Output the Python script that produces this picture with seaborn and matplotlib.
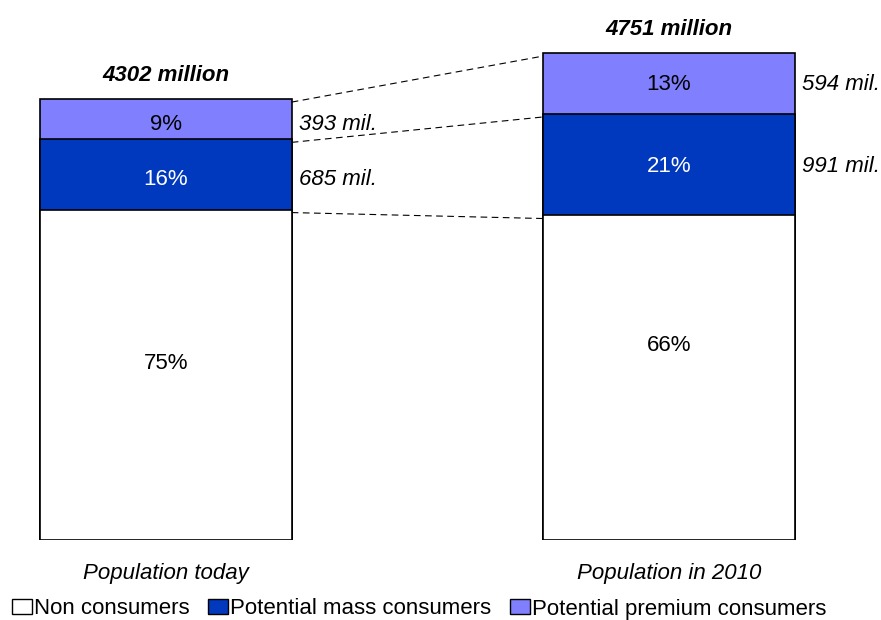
import matplotlib
matplotlib.use("Agg")
import matplotlib.pyplot as plt
from matplotlib.patches import Patch
from matplotlib.transforms import offset_copy
import seaborn as sns
import pandas as pd

# Population segments (millions) for each period
periods = ["Population today", "Population in 2010"]
totals = [4302, 4751]
mass_mil = [685, 991]
premium_mil = [393, 594]
non_mil = [t - m - p for t, m, p in zip(totals, mass_mil, premium_mil)]

# Shares shown inside the bars (%)
non_pct = [75, 66]
mass_pct = [16, 21]
premium_pct = [9, 13]

segment_names = ["Non consumers", "Potential mass consumers", "Potential premium consumers"]
colors = {"Non consumers": "#FFFFFF",
          "Potential mass consumers": "#0039BE",
          "Potential premium consumers": "#8080FF"}

sns.set_style("white")
plt.rcParams["font.family"] = ["Liberation Sans", "DejaVu Sans"]
plt.rcParams["text.color"] = "black"
FS = 16

fig = plt.figure(figsize=(8.81, 6.2), dpi=100)
ax = fig.add_axes([0, 80 / 620, 1, 540 / 620])

df = pd.DataFrame({
    "period": periods,
    "top": totals,
    "mass_top": [n + m for n, m in zip(non_mil, mass_mil)],
    "non_top": non_mil,
})

# Stack by drawing cumulative heights from tallest to shortest
BAR_W = 0.5
for col, seg in [("top", "Potential premium consumers"),
                 ("mass_top", "Potential mass consumers"),
                 ("non_top", "Non consumers")]:
    sns.barplot(data=df, x="period", y=col, color=colors[seg], saturation=1,
                width=BAR_W, edgecolor="black", linewidth=1.2, errorbar=None, ax=ax)

ax.set_xlim(-0.330, 1.4215)
ax.set_ylim(0, 5268)
ax.axis("off")

half = BAR_W / 2
# Dashed connectors between matching boundaries of the two bars
line_tr = offset_copy(ax.transData, fig=fig, y=-2.2, units="points")
for level in [totals, df["mass_top"].tolist(), non_mil]:
    ax.plot([0 + half, 1 - half], [level[0], level[1]], color="black",
            lw=0.8, ls=(0, (6, 4)), zorder=1, transform=line_tr)

# Small vertical nudges (points) for labels of each bar
seg_dy = [-3.5, -1]
non_dy = [8, 23]

for i in range(2):
    n, m, p = non_mil[i], mass_mil[i], premium_mil[i]
    dy = seg_dy[i]
    # Share labels inside segments
    ax.annotate(f"{non_pct[i]}%", xy=(i, n / 2), xytext=(0, non_dy[i]),
                textcoords="offset points", ha="center", va="center", fontsize=FS)
    ax.annotate(f"{mass_pct[i]}%", xy=(i, n + m / 2), xytext=(0, dy),
                textcoords="offset points", ha="center", va="center",
                fontsize=FS, color="white")
    ax.annotate(f"{premium_pct[i]}%", xy=(i, n + m + p / 2), xytext=(0, dy),
                textcoords="offset points", ha="center", va="center", fontsize=FS)
    # Absolute values to the right of the bar
    ax.annotate(f"{m} mil.", xy=(i + half, n + m / 2), xytext=(5, dy),
                textcoords="offset points", ha="left", va="center",
                fontsize=FS, style="italic")
    ax.annotate(f"{p} mil.", xy=(i + half, n + m + p / 2), xytext=(5, dy),
                textcoords="offset points", ha="left", va="center",
                fontsize=FS, style="italic")
    # Totals above the bar
    ax.annotate(f"{totals[i]} million", xy=(i, totals[i]), xytext=(0, 17),
                textcoords="offset points", ha="center", va="center",
                fontsize=FS, style="italic", fontweight="bold")
    # Period labels under the bar
    ax.annotate(periods[i], xy=(i, 0), xytext=(0, -24), textcoords="offset points",
                ha="center", va="center", fontsize=FS, style="italic")

handles = [Patch(facecolor=colors[s], edgecolor="black", linewidth=1) for s in segment_names]
fig.legend(handles, segment_names, loc="center", bbox_to_anchor=(419 / 881, 1 - 609 / 620),
           ncol=3, frameon=False, fontsize=FS, handlelength=0.9, handleheight=0.63,
           handletextpad=0.1, columnspacing=0.83, borderaxespad=0, borderpad=0)

fig.savefig("out.png", dpi=100)
